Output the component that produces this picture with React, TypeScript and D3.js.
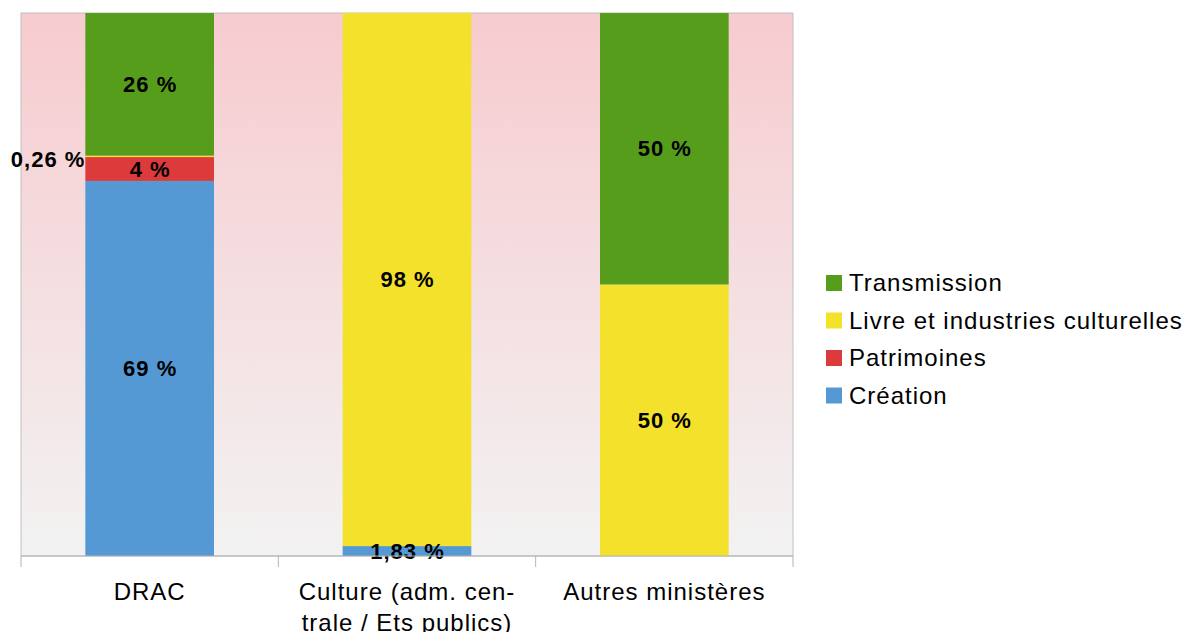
import React, { useEffect, useRef } from 'react';
import * as d3 from 'd3';

const categories = ['DRAC', 'Culture (adm. cen-|trale / Ets publics)', 'Autres ministères'];
const seriesNames = ['Création', 'Patrimoines', 'Livre et industries culturelles', 'Transmission'];
const seriesColors = ['#5599d4', '#dd3b3b', '#f4e12b', '#579d1c'];
// values per series, one per category
const creation = [69.07, 1.83, 0];
const patrimoines = [4.4, 0, 0];
const livre = [0.26, 98.17, 50];
const transmission = [26.27, 0, 50];
const labels = [
  ['69 %', '1,83 %', ''],
  ['4 %', '', ''],
  ['0,26 %', '98 %', '50 %'],
  ['26 %', '', '50 %'],
];

const App: React.FC = () => {
  const svgRef = useRef<SVGSVGElement>(null);

  useEffect(() => {
    const svg = d3.select(svgRef.current);
    svg.selectAll('*').remove();

    const left = 21, right = 793, top = 13, bottom = 556;
    const font = '"Liberation Sans", Arial, sans-serif';

    const x = d3.scaleBand<number>().domain([0, 1, 2]).range([left, right]).paddingInner(0).paddingOuter(0);
    const y = d3.scaleLinear().domain([0, 100]).range([bottom, top]);

    const defs = svg.append('defs');
    const grad = defs.append('linearGradient').attr('id', 'bg').attr('x1', 0).attr('y1', 0).attr('x2', 0).attr('y2', 1);
    grad.append('stop').attr('offset', '0%').attr('stop-color', '#f7cbcf');
    grad.append('stop').attr('offset', '100%').attr('stop-color', '#f2f2f2');

    svg.append('rect')
      .attr('x', left).attr('y', top)
      .attr('width', right - left).attr('height', bottom - top)
      .attr('fill', 'url(#bg)')
      .attr('stroke', '#c0c0c0');

    const data = [creation, patrimoines, livre, transmission];
    const stack = d3.stack<number, number>()
      .keys([0, 1, 2, 3])
      .value((i, k) => data[k][i]);
    const stacked = stack([0, 1, 2]);

    const bw = x.bandwidth() / 2;
    stacked.forEach((layer, k) => {
      layer.forEach((seg, i) => {
        if (seg[1] - seg[0] <= 0) return;
        svg.append('rect')
          .attr('x', x(i)! + x.bandwidth() / 4)
          .attr('y', y(seg[1]))
          .attr('width', bw)
          .attr('height', y(seg[0]) - y(seg[1]))
          .attr('fill', seriesColors[k]);
      });
    });

    // value labels
    stacked.forEach((layer, k) => {
      layer.forEach((seg, i) => {
        const t = labels[k][i];
        if (!t) return;
        const cx = x(i)! + x.bandwidth() / 2;
        let tx = cx, ty = (y(seg[0]) + y(seg[1])) / 2, anchor = 'middle';
        if (k === 2 && i === 0) { tx = x(i)! + x.bandwidth() / 4; anchor = 'end'; ty = y(seg[1]) + 4; }
        if (k === 0 && i === 1) { ty = y(seg[1]) + 5; }
        svg.append('text')
          .attr('x', tx + (anchor === 'middle' ? 0.5 : 0)).attr('y', ty)
          .attr('dy', '0.35em')
          .attr('text-anchor', anchor)
          .style('font-family', font)
          .style('font-size', '22px')
          .style('font-weight', 'bold')
          .style('letter-spacing', '1px')
          .attr('fill', '#000')
          .text(t);
      });
    });

    // x axis
    svg.append('line').attr('x1', left).attr('x2', right).attr('y1', bottom).attr('y2', bottom).attr('stroke', '#b3b3b3');
    [0, 1, 2, 3].forEach(i => {
      const tx = i < 3 ? x(i)! : right;
      svg.append('line').attr('x1', tx).attr('x2', tx).attr('y1', bottom).attr('y2', bottom + 11).attr('stroke', '#b3b3b3');
    });
    categories.forEach((c, i) => {
      const lines = c.split('|');
      const t = svg.append('text')
        .attr('text-anchor', 'middle')
        .style('font-family', font)
        .style('font-size', '24px')
        .style('letter-spacing', '1px')
        .attr('fill', '#000');
      lines.forEach((l, j) => {
        t.append('tspan').attr('x', x(i)! + x.bandwidth() / 2).attr('y', 600 + j * 31).text(l);
      });
    });

    // legend
    const order = [3, 2, 1, 0];
    order.forEach((k, j) => {
      const ly = 283 + j * 37.5;
      svg.append('rect').attr('x', 826).attr('y', ly - 8).attr('width', 16).attr('height', 16).attr('fill', seriesColors[k]);
      svg.append('text')
        .attr('x', 849).attr('y', ly)
        .attr('dy', '0.35em')
        .style('font-family', font)
        .style('font-size', '24px')
        .style('letter-spacing', '1px')
        .attr('fill', '#000')
        .text(seriesNames[k]);
    });
  }, []);

  return <svg ref={svgRef} width={1182} height={632} style={{ position: 'absolute', left: 0, top: 0, background: '#fff' }} />;
};

export default App;
